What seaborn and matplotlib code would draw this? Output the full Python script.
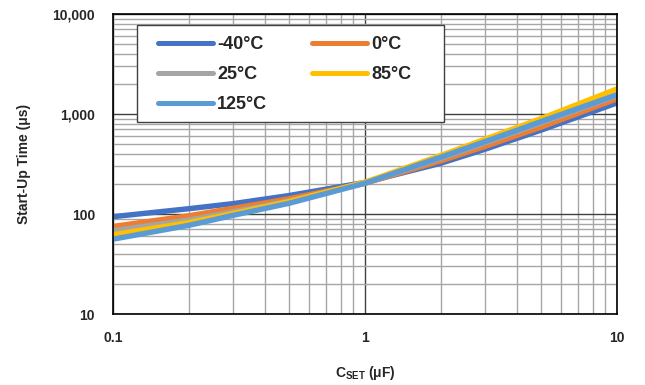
import numpy as np
import pandas as pd
import matplotlib
matplotlib.use("Agg")
import matplotlib.pyplot as plt
import matplotlib.patches as mpatches
import seaborn as sns
from matplotlib.ticker import FixedLocator, NullFormatter

# ---- data ----
c_set = [0.1, 0.2, 0.3, 0.5, 1, 2, 3, 5, 10]
t_m40 = [94, 113, 127, 153, 207, 322, 445, 690, 1290]
t_0 = [75, 96, 114, 142, 203, 340, 475, 740, 1420]
t_25 = [68, 87, 105, 135, 204, 360, 515, 815, 1530]
t_85 = [62, 82, 101, 133, 208, 385, 560, 900, 1780]
t_125 = [56, 77, 97, 128, 203, 370, 530, 840, 1560]
series_labels = ["-40°C", "0°C", "25°C", "85°C", "125°C"]
series_colors = ["#4472C4", "#ED7D31", "#A5A5A5", "#FFC000", "#5B9BD5"]
xticks = [0.1, 1, 10]
xticklabels = ["0.1", "1", "10"]
yticks = [10, 100, 1000, 10000]
yticklabels = ["10", "100", "1,000", "10,000"]

rows = []
for lab, vals in zip(series_labels, [t_m40, t_0, t_25, t_85, t_125]):
    for x, y in zip(c_set, vals):
        rows.append({"C": x, "t": y, "Temp": lab})
df = pd.DataFrame(rows)

sns.set_style("white")
plt.rcParams["font.family"] = ["Liberation Sans", "DejaVu Sans"]
plt.rcParams["font.weight"] = "bold"
plt.rcParams["mathtext.fontset"] = "custom"
plt.rcParams["mathtext.rm"] = "Liberation Sans:bold"
plt.rcParams["mathtext.bf"] = "Liberation Sans:bold"

fig = plt.figure(figsize=(6.45, 3.85), dpi=100)
ax = fig.add_axes([113 / 645, 1 - 314 / 385, 504 / 645, 300 / 385])

sns.lineplot(data=df, x="C", y="t", hue="Temp", hue_order=series_labels,
             palette=dict(zip(series_labels, series_colors)),
             linewidth=3.9, ax=ax, legend=True, estimator=None, sort=True)

ax.set_xscale("log")
ax.set_yscale("log")
ax.set_xlim(0.1, 10)
ax.set_ylim(10, 10000)

ax.set_xticks(xticks)
ax.set_xticklabels(xticklabels)
ax.set_yticks(yticks)
ax.set_yticklabels(yticklabels)
xminor = [m * 10.0 ** e for e in (-1, 0) for m in range(2, 10)]
yminor = [m * 10.0 ** e for e in (1, 2, 3) for m in range(2, 10)]
ax.xaxis.set_minor_locator(FixedLocator(xminor))
ax.yaxis.set_minor_locator(FixedLocator(yminor))
ax.xaxis.set_minor_formatter(NullFormatter())
ax.yaxis.set_minor_formatter(NullFormatter())

ax.grid(True, which="minor", color="#a6a6a6", linewidth=1.0)
ax.grid(True, which="major", color="#404040", linewidth=1.0)
ax.set_axisbelow(True)
ax.tick_params(which="both", length=0)
ax.tick_params(axis="x", pad=12, labelsize=10)
ax.tick_params(axis="y", pad=13, labelsize=10)
for lab in ax.get_xticklabels() + ax.get_yticklabels():
    lab.set_fontweight("bold")

for s in ax.spines.values():
    s.set_color("black")
    s.set_linewidth(1.2)

ax.set_ylabel("Start-Up Time (μs)", fontsize=10, fontweight="bold", labelpad=15)
ax.set_xlabel(r"C$_{\mathregular{SET}}$ (μF)", fontsize=10, fontweight="bold", labelpad=14)

# legend frame (Excel-style box)
frame = mpatches.Rectangle((24 / 504, (314 - 122) / 300), (444 - 137) / 504, (122 - 25) / 300,
                           transform=ax.transAxes, facecolor="white",
                           edgecolor="#404040", linewidth=1.0, zorder=4)
ax.add_patch(frame)

handles, labels = ax.get_legend_handles_labels()
hmap = dict(zip(labels, handles))
order = ["-40°C", "25°C", "125°C", "0°C", "85°C"]  # row-major reading in 2 columns
leg = ax.legend([hmap[k] for k in order], order, ncol=2, loc="upper left",
                bbox_to_anchor=((158 - 113) / 504, (314 - 36) / 300),
                borderaxespad=0, borderpad=0,
                frameon=False, handlelength=3.05, handletextpad=0.22,
                columnspacing=2.5, labelspacing=0.72,
                prop={"weight": "bold", "size": 13})
leg.set_zorder(5)
for h in leg.get_lines():
    h.set_linewidth(3.6)
    h.set_solid_capstyle("round")

fig.savefig("out.png", dpi=100)
